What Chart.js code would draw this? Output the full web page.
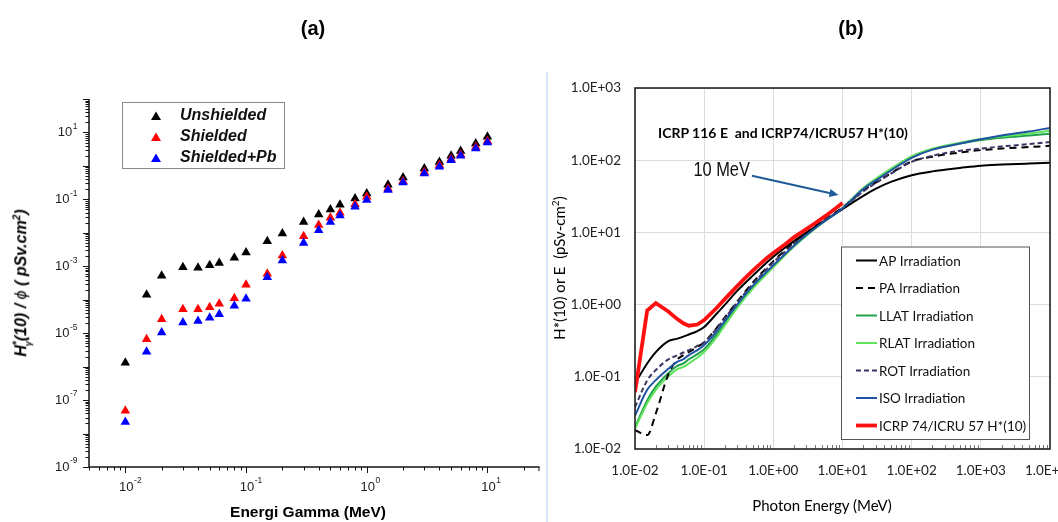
<!DOCTYPE html>
<html>
<head>
<meta charset="utf-8">
<script src="https://cdn.jsdelivr.net/npm/chart.js@4.4.1/dist/chart.umd.min.js"></script>
<style>
  html, body { margin: 0; padding: 0; background: #fff; width: 1058px; height: 522px; overflow: hidden; position: relative; }
  canvas { position: absolute; top: 0; }
  #chartA { left: 0; }
  #chartB { left: 540px; }
  .lbl { position: absolute; white-space: pre; color: #000; transform: translate(-50%, -50%); }
  .sans { font-family: "Liberation Sans", Arial, sans-serif; }
  .cal { font-family: Lato, "Open Sans", sans-serif; }
  #sep { position: absolute; left: 546px; top: 72px; width: 2px; height: 450px; background: #d8e7f5; }
</style>
</head>
<body>
<canvas id="chartA" width="545" height="522"></canvas>
<canvas id="chartB" width="560" height="522"></canvas>
<div id="sep"></div>

<div class="lbl sans" style="left:313px; top:28px; font-size:20px; font-weight:bold;">(a)</div>
<div class="lbl sans" style="left:851px; top:28px; font-size:20px; font-weight:bold;">(b)</div>

<div class="lbl sans" style="left:308px; top:512px; font-size:15.5px; font-weight:bold;">Energi Gamma (MeV)</div>
<div class="lbl sans" style="left:22px; top:283px; font-size:16px; font-weight:bold; font-style:italic; transform: translate(-50%, -50%) rotate(-90deg);">H<sup style="font-size:10px">*</sup><sub style="font-size:9px; margin-left:-5px">γ</sub>(10) / <span style="font-weight:normal">ϕ</span> ( pSv.cm<sup style="font-size:10px">2</sup>)</div>

<div class="lbl cal" style="left:822px; top:505px; font-size:15px;">Photon Energy (MeV)</div>
<div class="lbl cal" style="left:558px; top:268px; font-size:15px; transform: translate(-50%, -50%) rotate(-90deg);">H*(10) or E  (pSv-cm<sup style="font-size:10px">2</sup>)</div>
<div class="lbl cal" style="left:783px; top:132px; font-size:14px; font-weight:bold;">ICRP 116 E  and ICRP74/ICRU57 H*(10)</div>

<script>
// ---- panel (a): measured conversion coefficients ----
var energyA = [0.01, 0.015, 0.02, 0.03, 0.04, 0.05, 0.06, 0.08, 0.1, 0.15, 0.2, 0.3, 0.4, 0.5, 0.6, 0.8, 1, 1.5, 2, 3, 4, 5, 6, 8, 10];
var unshielded = [1.3e-6, 1.4e-4, 5.2e-4, 9.3e-4, 9.0e-4, 1.07e-3, 1.26e-3, 1.8e-3, 2.6e-3, 5.6e-3, 9.5e-3, 0.021, 0.035, 0.05, 0.069, 0.107, 0.15, 0.275, 0.45, 0.83, 1.32, 2.0, 2.8, 4.7, 7.4];
var shielded = [4.8e-8, 6.6e-6, 2.6e-5, 5.2e-5, 5.2e-5, 6.0e-5, 7.6e-5, 1.1e-4, 2.8e-4, 6.0e-4, 2.1e-3, 7.9e-3, 0.017, 0.028, 0.04, 0.071, 0.12, 0.21, 0.35, 0.66, 1.07, 1.6, 2.2, 3.7, 5.6];
var shieldedPb = [2.2e-8, 2.8e-6, 1.05e-5, 2.1e-5, 2.3e-5, 2.9e-5, 3.7e-5, 6.6e-5, 1.07e-4, 4.7e-4, 1.5e-3, 5.0e-3, 0.012, 0.021, 0.033, 0.06, 0.095, 0.19, 0.32, 0.59, 0.95, 1.48, 2.0, 3.3, 5.0];
var xExpA = [-2, -1, 0, 1];
var yExpA = [-9, -7, -5, -3, -1, 1];

// ---- panel (b): ICRP 116 effective dose and ICRP74 H*(10) ----
var energyB = [0.01, 0.015, 0.02, 0.03, 0.04, 0.05, 0.06, 0.08, 0.1, 0.15, 0.2, 0.3, 0.5, 1, 2, 3, 5, 10, 20, 30, 50, 100, 200, 500, 1000, 2000, 5000, 10000];
var apB   = [0.081, 0.153, 0.22, 0.31, 0.335, 0.36, 0.385, 0.43, 0.49, 0.74, 1.0, 1.55, 2.5, 4.6, 7.6, 9.9, 13.6, 21, 32, 40, 50, 62, 70, 78, 84, 87, 90, 92];
var paB   = [0.0183, 0.0156, 0.031, 0.105, 0.17, 0.2, 0.22, 0.26, 0.3, 0.47, 0.67, 1.1, 2.0, 4.0, 7.3, 9.9, 14.2, 22, 38, 49, 66, 96, 112, 128, 138, 145, 152, 158];
var llatB = [0.020, 0.047, 0.073, 0.111, 0.14, 0.153, 0.175, 0.206, 0.24, 0.38, 0.55, 0.95, 1.72, 3.4, 6.5, 9.1, 13.4, 21.8, 41, 54, 75, 112, 142, 170, 190, 205, 220, 232];
var rlatB = [0.019, 0.043, 0.066, 0.1, 0.126, 0.137, 0.153, 0.185, 0.22, 0.35, 0.52, 0.9, 1.65, 3.3, 6.4, 9.0, 13.3, 21.8, 41, 55, 76, 113, 144, 174, 196, 213, 235, 255];
var rotB  = [0.038, 0.089, 0.124, 0.173, 0.197, 0.217, 0.233, 0.268, 0.30, 0.46, 0.65, 1.07, 1.9, 3.85, 7.0, 9.6, 13.8, 21.5, 37, 48, 65, 95, 115, 135, 145, 155, 167, 178];
var isoB  = [0.029, 0.066, 0.09, 0.128, 0.16, 0.175, 0.2, 0.234, 0.275, 0.42, 0.6, 1.0, 1.8, 3.5, 6.6, 9.2, 13.4, 21.5, 40, 52, 72, 108, 140, 170, 195, 220, 250, 280];
var energyH = [0.01, 0.015, 0.02, 0.03, 0.04, 0.05, 0.06, 0.08, 0.1, 0.15, 0.2, 0.3, 0.4, 0.5, 0.6, 0.8, 1, 1.5, 2, 3, 4, 5, 6, 8, 10];
var h10 = [0.061, 0.83, 1.05, 0.81, 0.64, 0.55, 0.51, 0.53, 0.61, 0.89, 1.2, 1.8, 2.38, 2.93, 3.44, 4.38, 5.2, 6.9, 8.6, 11.1, 13.4, 15.5, 17.6, 21.6, 25.6];
var decadesB = [0.01, 0.1, 1, 10, 100, 1000, 10000];
var yDecadesB = [0.01, 0.1, 1, 10, 100, 1000];

function pts(xs, ys) {
  return xs.map(function (x, i) { return { x: x, y: ys[i] }; });
}

function fmtE(v) {
  var e = Math.round(Math.log10(v));
  var s = e < 0 ? "-" : "+";
  return "1.0E" + s + String(Math.abs(e)).padStart(2, "0");
}

function seg(ctx, x1, y1, x2, y2) {
  ctx.beginPath();
  ctx.moveTo(x1, y1);
  ctx.lineTo(x2, y2);
  ctx.stroke();
}

function drawPow(ctx, exp, x, y, align) {
  var baseFont = "13px 'Liberation Sans', Arial, sans-serif";
  var supFont = "8.5px 'Liberation Sans', Arial, sans-serif";
  ctx.font = baseFont;
  var wb = ctx.measureText("10").width;
  ctx.font = supFont;
  var ws = ctx.measureText(String(exp)).width;
  var x0 = align === "right" ? x - wb - ws - 1 : x - wb / 2 + 1;
  ctx.textAlign = "left";
  ctx.textBaseline = "middle";
  ctx.font = baseFont;
  ctx.fillText("10", x0, y);
  ctx.font = supFont;
  ctx.fillText(String(exp), x0 + wb + 0.5, y - 6);
}

// axes, ticks, labels and legend of panel (a)
var decorA = {
  id: "decorA",
  afterDraw: function (chart) {
    var ctx = chart.ctx, xs = chart.scales.x, ys = chart.scales.y, a = chart.chartArea;
    ctx.save();
    ctx.strokeStyle = "#111";
    ctx.lineWidth = 1.5;
    seg(ctx, a.left, a.top, a.left, a.bottom);
    seg(ctx, a.left, a.bottom, a.right, a.bottom);
    ctx.lineWidth = 1;
    for (var d = -3; d <= 1; d++) {
      for (var k = 1; k <= 9; k++) {
        var v = k * Math.pow(10, d);
        if (v < xs.min || v > xs.max) continue;
        var px = Math.round(xs.getPixelForValue(v)) + 0.5;
        seg(ctx, px, a.bottom, px, a.bottom + (k === 1 ? 6 : 3.5));
      }
    }
    seg(ctx, a.right - 0.5, a.bottom, a.right - 0.5, a.bottom + 4);
    for (var e = -9; e <= 2; e++) {
      for (var m = 1; m <= 9; m++) {
        var w = m * Math.pow(10, e);
        if (w < ys.min || w > ys.max * 1.0001) continue;
        var py = Math.round(ys.getPixelForValue(w)) + 0.5;
        seg(ctx, a.left, py, a.left - (m === 1 ? 6 : 3.5), py);
      }
    }
    ctx.fillStyle = "#222";
    xExpA.forEach(function (ex) {
      drawPow(ctx, ex, xs.getPixelForValue(Math.pow(10, ex)), a.bottom + 20, "center");
    });
    yExpA.forEach(function (ex) {
      drawPow(ctx, ex, a.left - 11, ys.getPixelForValue(Math.pow(10, ex)), "right");
    });

    // legend
    var bx = a.left + 33, by = a.top + 3;
    ctx.strokeStyle = "#888";
    ctx.lineWidth = 1;
    ctx.fillStyle = "#fff";
    ctx.fillRect(bx + 0.5, by + 0.5, 162, 66);
    ctx.strokeRect(bx + 0.5, by + 0.5, 162, 66);
    ctx.font = "italic bold 16px 'Liberation Sans', Arial, sans-serif";
    ctx.textBaseline = "middle";
    chart.data.datasets.forEach(function (ds, i) {
      var ry = by + 14 + i * 21;
      ctx.fillStyle = ds.backgroundColor;
      ctx.beginPath();
      ctx.moveTo(bx + 34, ry - 4.5);
      ctx.lineTo(bx + 39, ry + 4);
      ctx.lineTo(bx + 29, ry + 4);
      ctx.closePath();
      ctx.fill();
      ctx.fillStyle = "#111";
      ctx.fillText(ds.label, bx + 58, ry);
    });
    ctx.restore();
  }
};

new Chart(document.getElementById("chartA"), {
  type: "scatter",
  data: {
    datasets: [
      { label: "Unshielded", data: pts(energyA, unshielded), backgroundColor: "#000", order: 2 },
      { label: "Shielded", data: pts(energyA, shielded), backgroundColor: "#ff0000", order: 1 },
      { label: "Shielded+Pb", data: pts(energyA, shieldedPb), backgroundColor: "#0000ff", order: 0 }
    ]
  },
  options: {
    responsive: false,
    animation: false,
    layout: { padding: { left: 89, top: 99, right: 2, bottom: 55 } },
    elements: { point: { pointStyle: "triangle", radius: 5.5, borderWidth: 0 } },
    scales: {
      x: { type: "logarithmic", min: 0.005, max: 27, display: false },
      y: { type: "logarithmic", min: 1e-9, max: 100, display: false }
    },
    plugins: { legend: { display: false }, tooltip: { enabled: false } }
  },
  plugins: [decorA]
});

// frame, minor ticks, legend and arrow of panel (b)
var decorB = {
  id: "decorB",
  afterDatasetsDraw: function (chart) {
    var ctx = chart.ctx, xs = chart.scales.x, ys = chart.scales.y, a = chart.chartArea;
    ctx.save();
    ctx.strokeStyle = "#777";
    ctx.lineWidth = 1;
    for (var d = -2; d < 4; d++) {
      for (var k = 2; k <= 9; k++) {
        var px = Math.round(xs.getPixelForValue(k * Math.pow(10, d))) + 0.5;
        seg(ctx, px, a.bottom, px, a.bottom - 4);
      }
    }
    ctx.strokeStyle = "#222";
    ctx.lineWidth = 1.6;
    ctx.strokeRect(a.left, a.top, a.right - a.left, a.bottom - a.top);

    // arrow "10 MeV"
    var x1 = xs.getPixelForValue(0.49), y1 = ys.getPixelForValue(61);
    var x2 = xs.getPixelForValue(8.75), y2 = ys.getPixelForValue(33);
    ctx.strokeStyle = "#1f5b98";
    ctx.fillStyle = "#1f5b98";
    ctx.lineWidth = 2;
    var ang = Math.atan2(y2 - y1, x2 - x1);
    seg(ctx, x1, y1, x2 - 7 * Math.cos(ang), y2 - 7 * Math.sin(ang));
    ctx.beginPath();
    ctx.moveTo(x2, y2);
    ctx.lineTo(x2 - 9 * Math.cos(ang) + 4 * Math.sin(ang), y2 - 9 * Math.sin(ang) - 4 * Math.cos(ang));
    ctx.lineTo(x2 - 9 * Math.cos(ang) - 4 * Math.sin(ang), y2 - 9 * Math.sin(ang) + 4 * Math.cos(ang));
    ctx.closePath();
    ctx.fill();
    ctx.save();
    ctx.translate(x1 - 2, y1 - 5);
    ctx.scale(0.82, 1);
    ctx.fillStyle = "#111";
    ctx.font = "20px 'Liberation Sans', sans-serif";
    ctx.textAlign = "right";
    ctx.textBaseline = "middle";
    ctx.fillText("10 MeV", 0, 0);
    ctx.restore();

    // legend box
    var bl = a.right - 209, bt = a.bottom - 202.5;
    ctx.fillStyle = "#fff";
    ctx.fillRect(bl, bt, 188, 192.5);
    ctx.strokeStyle = "#555";
    ctx.lineWidth = 1;
    ctx.strokeRect(bl + 0.5, bt + 0.5, 188, 192.5);
    ctx.font = "13.5px Lato, 'Open Sans', sans-serif";
    ctx.textAlign = "left";
    ctx.textBaseline = "middle";
    chart.data.datasets.forEach(function (ds, i) {
      var ry = bt + 14 + i * 27.5;
      ctx.strokeStyle = ds.borderColor;
      ctx.lineWidth = ds.borderWidth;
      ctx.setLineDash(ds.borderDash || []);
      seg(ctx, bl + 15, ry, bl + 36, ry);
      ctx.setLineDash([]);
      ctx.fillStyle = "#111";
      ctx.fillText(ds.label, bl + 38, ry + 1);
    });
    ctx.restore();
  }
};

function curve(label, data, color, width, dash, order, smooth) {
  return {
    label: label, data: data, showLine: true, borderColor: color, backgroundColor: color,
    borderWidth: width, borderDash: dash, pointRadius: 0, order: order,
    cubicInterpolationMode: smooth ? "monotone" : "default", tension: 0
  };
}

new Chart(document.getElementById("chartB"), {
  type: "scatter",
  data: {
    datasets: [
      curve("AP Irradiation", pts(energyB, apB), "#000000", 2, [], 2, true),
      curve("PA Irradiation", pts(energyB, paB), "#000000", 2, [7, 5], 4, true),
      curve("LLAT Irradiation", pts(energyB, llatB), "#1fa04c", 2, [], 6, true),
      curve("RLAT Irradiation", pts(energyB, rlatB), "#5fe35a", 2, [], 5, true),
      curve("ROT Irradiation", pts(energyB, rotB), "#3d3560", 2, [5, 3], 3, true),
      curve("ISO Irradiation", pts(energyB, isoB), "#2153a3", 2, [], 1, true),
      curve("ICRP 74/ICRU 57 H*(10)", pts(energyH, h10), "#ff1010", 3.8, [], 0, false)
    ]
  },
  options: {
    responsive: false,
    animation: false,
    layout: { padding: { left: 0, top: 88, right: 50, bottom: 0 } },
    scales: {
      x: {
        type: "logarithmic", min: 0.01, max: 10000,
        afterBuildTicks: function (s) { s.ticks = decadesB.map(function (v) { return { value: v }; }); },
        afterFit: function (s) { s.height = 73; },
        grid: { color: "#dcdcdc", drawTicks: false },
        border: { display: false },
        ticks: { callback: fmtE, autoSkip: false, maxRotation: 0, padding: 14, color: "#222", font: { family: "Lato, 'Open Sans', sans-serif", size: 13.5 } }
      },
      y: {
        type: "logarithmic", min: 0.01, max: 1000,
        afterBuildTicks: function (s) { s.ticks = yDecadesB.map(function (v) { return { value: v }; }); },
        afterFit: function (s) { s.width = 95; },
        grid: { color: "#dcdcdc", drawTicks: false },
        border: { display: false },
        ticks: { callback: fmtE, autoSkip: false, padding: 14, color: "#222", font: { family: "Lato, 'Open Sans', sans-serif", size: 13.5 } }
      }
    },
    plugins: { legend: { display: false }, tooltip: { enabled: false } }
  },
  plugins: [decorB]
});
</script>
</body>
</html>
